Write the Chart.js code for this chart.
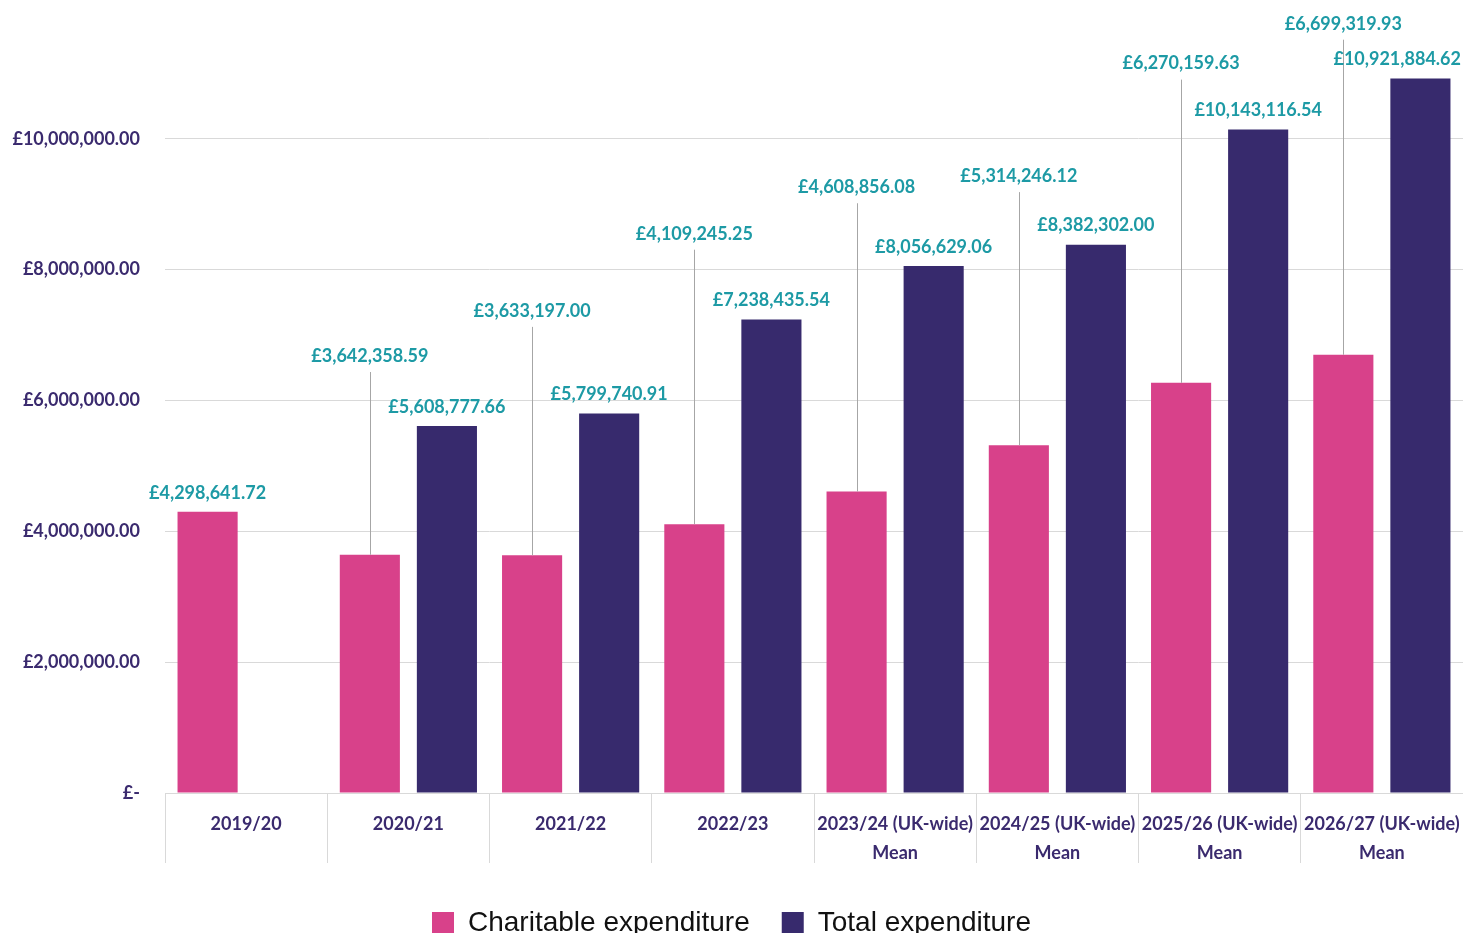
<!DOCTYPE html>
<html>
<head>
<meta charset="utf-8">
<title>Charitable and total expenditure</title>
<script src="https://cdn.jsdelivr.net/npm/chart.js@4.4.1/dist/chart.umd.min.js"></script>
<style>
  html, body { margin: 0; padding: 0; background: #fff; overflow: hidden; }
  #wrap { width: 1463px; height: 947px; position: relative; }
</style>
</head>
<body>
<div id="wrap"><canvas id="chart"></canvas></div>
<script>
// Year labels (later years are UK-wide means)
const years = [
  "2019/20",
  "2020/21",
  "2021/22",
  "2022/23",
  ["2023/24 (UK-wide)", "Mean"],
  ["2024/25 (UK-wide)", "Mean"],
  ["2025/26 (UK-wide)", "Mean"],
  ["2026/27 (UK-wide)", "Mean"]
];

const charitable = [4298641.72, 3642358.59, 3633197.00, 4109245.25, 4608856.08, 5314246.12, 6270159.63, 6699319.93];
const total = [null, 5608777.66, 5799740.91, 7238435.54, 8056629.06, 8382302.00, 10143116.54, 10921884.62];

// Where the raised charitable labels sit (in £), joined to their bar by a thin line
const charitableLabelLevel = [null, 6680000, 7370000, 8550000, 9260000, 9430000, 11150000, 11760000];

const yTicks = [0, 2000000, 4000000, 6000000, 8000000, 10000000];

const pink = "#d8418a";
const navy = "#372a6d";
const teal = "#1d9aa5";
const axisText = "#3a2a6e";
const gridGrey = "#d9d9d9";

Chart.defaults.font.family = "Lato";

function formatPounds(v) {
  return "£" + v.toLocaleString("en-GB", { minimumFractionDigits: 2, maximumFractionDigits: 2 });
}

// Value labels above the bars
const valueLabels = {
  id: "valueLabels",
  afterDatasetsDraw(chart) {
    const ctx = chart.ctx;
    const yScale = chart.scales.y;
    ctx.save();
    ctx.font = "bold 18px Lato";
    ctx.fillStyle = teal;
    ctx.textAlign = "center";
    ctx.textBaseline = "middle";
    chart.data.datasets.forEach((ds, di) => {
      const meta = chart.getDatasetMeta(di);
      meta.data.forEach((bar, i) => {
        const v = ds.data[i];
        if (v == null) return;
        const text = formatPounds(v);
        // keep the text inside the canvas
        const half = ctx.measureText(text).width / 2;
        const tx = Math.min(bar.x, chart.width - half - 2);
        const level = di === 0 ? charitableLabelLevel[i] : null;
        if (level != null) {
          const ly = yScale.getPixelForValue(level);
          const lx = Math.round(bar.x) + 0.5;
          ctx.strokeStyle = "#a6a6a6";
          ctx.lineWidth = 1;
          ctx.beginPath();
          ctx.moveTo(lx, ly + 16);
          ctx.lineTo(lx, bar.y);
          ctx.stroke();
          ctx.fillText(text, tx, ly);
        } else {
          ctx.fillText(text, tx, bar.y - 19);
        }
      });
    });
    ctx.restore();
  }
};

new Chart(document.getElementById("chart"), {
  type: "bar",
  data: {
    labels: years,
    datasets: [
      {
        label: "Charitable expenditure",
        data: charitable,
        backgroundColor: pink,
        categoryPercentage: 0.95,
        barPercentage: 0.78
      },
      {
        label: "Total expenditure",
        data: total,
        backgroundColor: navy,
        categoryPercentage: 0.95,
        barPercentage: 0.78
      }
    ]
  },
  options: {
    responsive: true,
    maintainAspectRatio: false,
    animation: false,
    layout: { padding: { top: 8, left: 0, right: 0, bottom: 0 } },
    plugins: {
      legend: {
        position: "bottom",
        labels: {
          color: "#111",
          font: { family: "Liberation Sans", size: 28 },
          boxWidth: 22,
          boxHeight: 22,
          padding: 32
        }
      },
      tooltip: { enabled: false }
    },
    scales: {
      x: {
        grid: {
          offset: true,
          drawOnChartArea: false,
          drawTicks: true,
          tickLength: 70,
          color: gridGrey
        },
        border: { display: true, color: gridGrey },
        ticks: {
          color: axisText,
          autoSkip: false,
          maxRotation: 0,
          padding: -53,
          font: { size: 18, weight: "bold", lineHeight: 1.6 }
        },
        afterFit(scale) {
          scale.height = 84;
        }
      },
      y: {
        min: 0,
        max: 12000000,
        afterBuildTicks(scale) {
          scale.ticks = yTicks.map(v => ({ value: v }));
        },
        grid: { color: gridGrey, drawTicks: false },
        border: { display: false },
        ticks: {
          color: axisText,
          padding: 25,
          font: { size: 18, weight: "bold" },
          callback: value => (value === 0 ? "£-" : formatPounds(value))
        },
        afterFit(scale) {
          scale.width = 165;
          // the tick padding is only meant as a horizontal gap
          scale.paddingTop = 0;
          scale.paddingBottom = 0;
        }
      }
    }
  },
  plugins: [valueLabels]
});
</script>
</body>
</html>
